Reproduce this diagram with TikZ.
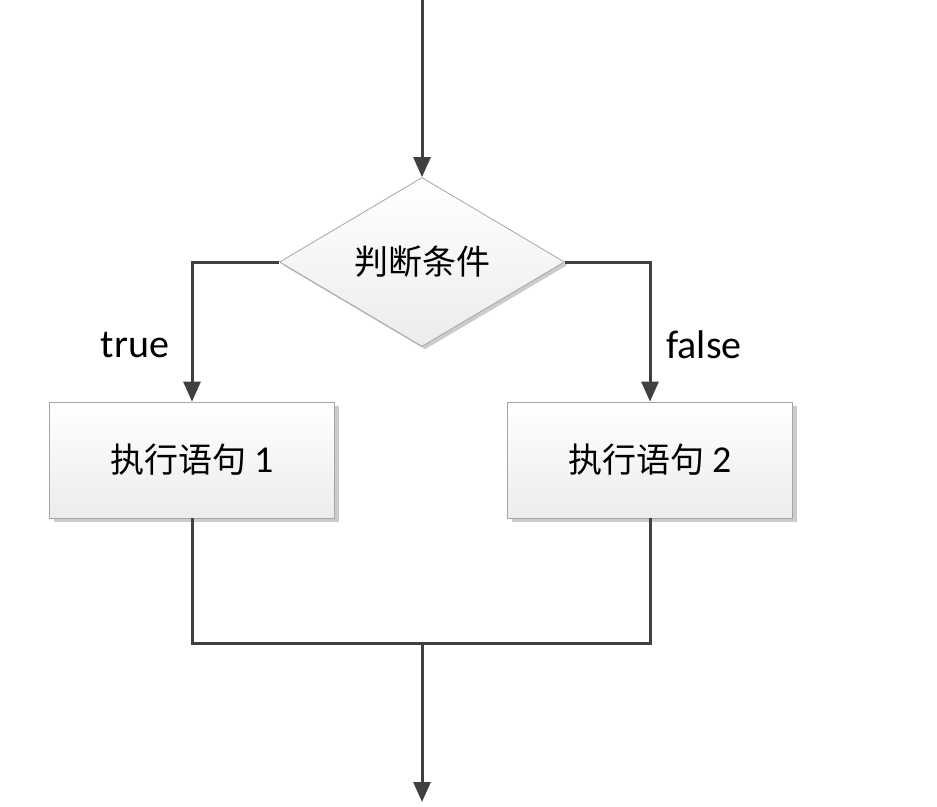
\documentclass[tikz,border=0pt]{standalone}
\usepackage{fontspec}
\setmainfont{Carlito}
\newfontfamily\cjk{Noto Sans CJK SC}
\usetikzlibrary{arrows.meta,shapes.geometric,shadows}
\definecolor{ln}{HTML}{404040}
\tikzset{
 conn/.style={draw=ln,line width=3pt},
 arr/.style={conn,-{Triangle[length=20pt,width=17pt]}},
 box/.style={draw=gray!70,line width=0.8pt,top color=white,bottom color=gray!15,minimum width=285pt,minimum height=116pt,inner sep=0pt,font=\fontsize{34pt}{34pt}\selectfont,drop shadow={shadow xshift=4pt,shadow yshift=-4pt,fill=gray!40,opacity=1}},
 dia/.style={diamond,draw=gray!70,line width=0.8pt,top color=white,bottom color=gray!15,minimum width=285pt,minimum height=169pt,inner sep=0pt,aspect=1.69,font=\fontsize{34pt}{34pt}\selectfont,drop shadow={shadow xshift=3pt,shadow yshift=-3pt,fill=gray!40,opacity=1}},
 lab/.style={font=\fontsize{40pt}{40pt}\selectfont}
}
\begin{document}
\begin{tikzpicture}[x=1pt,y=-1pt]
\useasboundingbox (0,0) rectangle (937,806);
\coordinate (start) at (422,0);
\node[dia] (d) at (422,262) {\cjk 判断条件};
\node[box] (b1) at (192,460) {\cjk 执行语句 \rmfamily\fontsize{38pt}{38pt}\selectfont 1};
\node[box] (b2) at (650,460) {\cjk 执行语句 \rmfamily\fontsize{38pt}{38pt}\selectfont 2};
\coordinate (jl) at (192,643);
\coordinate (jr) at (650,643);
\coordinate (jm) at (422,643);
\coordinate (end) at (422,802);
\draw[arr] (start) -- (d.north);
\draw[arr] (d.west) -| (b1.north);
\draw[arr] (d.east) -| (b2.north);
\draw[conn] (b1.south) -- (jl) -- (jr) -- (b2.south);
\draw[arr] (jm) -- (end);
\node[lab] (t) at (135,345) {true};
\node[lab] (f) at (704,345) {false};
\end{tikzpicture}
\end{document}
